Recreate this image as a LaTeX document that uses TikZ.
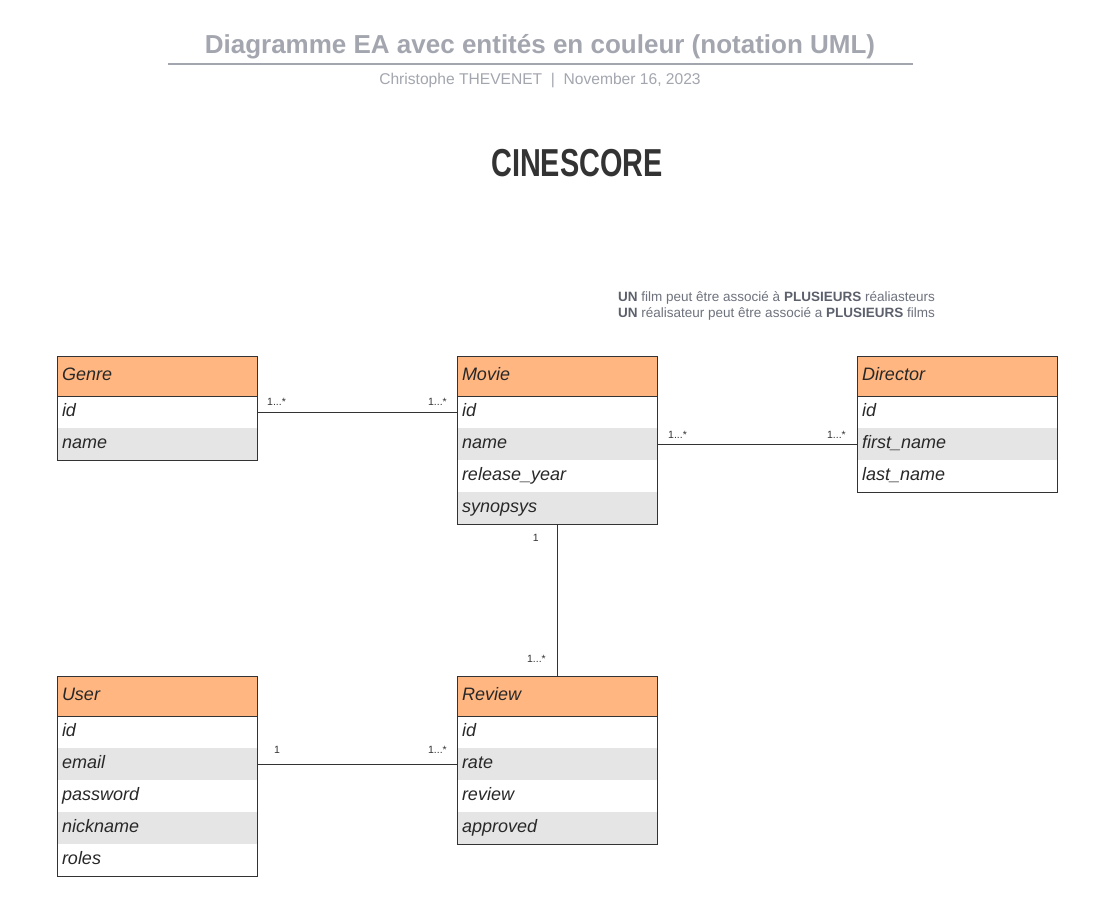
\documentclass[tikz,border=0pt]{standalone}
\usepackage{fontspec}
\setmainfont{Liberation Sans}
\usepackage{graphicx}
\definecolor{hdrorange}{HTML}{FFB680}
\definecolor{rowgray}{HTML}{E5E5E5}
\definecolor{bordc}{HTML}{333333}
\definecolor{txtc}{HTML}{282828}
\definecolor{titlegray}{HTML}{A3A6AE}
\definecolor{notegray}{HTML}{6E727D}
\definecolor{notebold}{HTML}{5C606B}
\newcommand\entfont{\fontsize{18pt}{20pt}\selectfont\itshape}
\tikzset{
  hdr/.style={rectangle, anchor=north west, fill=hdrorange, minimum width=200pt, minimum height=40pt,
    text width=190pt, inner xsep=5pt, inner ysep=0pt, outer sep=0pt, align=left, font=\entfont,
    text=txtc, text height=12.5pt, text depth=3.5pt},
  row/.style={rectangle, anchor=north west, minimum width=200pt, minimum height=32pt,
    text width=190pt, inner xsep=5pt, inner ysep=0pt, outer sep=0pt, align=left, font=\entfont,
    text=txtc, text height=12.5pt, text depth=3.5pt},
  bord/.style={draw=bordc, line width=1pt},
  conn/.style={draw=bordc, line width=1pt},
  lbl/.style={inner sep=0pt, font=\fontsize{10.5pt}{11pt}\selectfont, text=bordc},
}
\newcommand\entity[5]{%
  \node[hdr] (#1) at (#2) {#3};
  \foreach \r [count=\i] in {#5} {
    \ifodd\i \def\rf{white}\else\def\rf{rowgray}\fi
    \node[row, fill=\rf] (#1-\i) at ([yshift={-40-32*(\i-1)}]#1.north west) {\r};
  }
  \draw[bord] (#1.north west) rectangle (#1-#4.south east);
  \draw[bord] (#1.south west) -- (#1.south east);
}
\begin{document}
\begin{tikzpicture}[x=1pt,y=-1pt]
\useasboundingbox (0,0) rectangle (1093,916);
\fill[white] (0,0) rectangle (1093,916);

% Title block
\node[anchor=base, font=\fontsize{26pt}{30pt}\selectfont\bfseries, text=titlegray, inner sep=0pt] (title) at (540,53) {Diagramme EA avec entités en couleur (notation UML)};
\coordinate (tl) at (168,64);
\coordinate (tr) at (913,64);
\draw[titlegray, line width=2pt] (tl) -- (tr);
\node[anchor=base, font=\fontsize{15.6pt}{17pt}\selectfont, text=titlegray, inner sep=0pt] (subtitle) at (540,84) {Christophe THEVENET\ \ |\ \ November 16, 2023};

\node[text=bordc, inner sep=0pt] (brand) at (577,163) {\scalebox{0.74}[1]{\fontsize{39pt}{40pt}\selectfont\bfseries CINESCORE}};

% Note
\node[anchor=base west, inner sep=0pt, font=\fontsize{13.5pt}{16pt}\selectfont, text=notegray] (note1) at (618,301)
  {\textcolor{notebold}{\bfseries UN} film peut être associé à \textcolor{notebold}{\bfseries PLUSIEURS} réaliasteurs};
\node[anchor=base west, inner sep=0pt, font=\fontsize{13.5pt}{16pt}\selectfont, text=notegray] (note2) at (618,317)
  {\textcolor{notebold}{\bfseries UN} réalisateur peut être associé a \textcolor{notebold}{\bfseries PLUSIEURS} films};

% Entities
\entity{genre}{57,356}{Genre}{2}{id,name}
\entity{movie}{457,356}{Movie}{4}{id,name,release\_year,synopsys}
\entity{director}{857,356}{Director}{3}{id,first\_name,last\_name}
\entity{user}{57,676}{User}{5}{id,email,password,nickname,roles}
\entity{review}{457,676}{Review}{4}{id,rate,review,approved}

% Connectors
\draw[conn] (genre-1.east) -- (movie-1.west);
\draw[conn] (movie-2.east) -- (director-2.west);
\draw[conn] (movie-4.south) -- (review.north);
\draw[conn] (user-2.east) -- (review-2.west);

% Multiplicities
\node[lbl, anchor=south west] (gm1) at ([xshift=10pt,yshift=6pt]genre-1.east) {1...*};
\node[lbl, anchor=south east] (gm2) at ([xshift=-10pt,yshift=6pt]movie-1.west) {1...*};
\node[lbl, anchor=south west] (md1) at ([xshift=11pt,yshift=5pt]movie-2.east) {1...*};
\node[lbl, anchor=south east] (md2) at ([xshift=-11pt,yshift=5pt]director-2.west) {1...*};
\node[lbl, anchor=north east] (mr1) at ([xshift=-18pt,yshift=-10pt]movie-4.south) {1};
\node[lbl, anchor=south east] (mr2) at ([xshift=-11pt,yshift=13pt]review.north) {1...*};
\node[lbl, anchor=south west] (ur1) at ([xshift=17pt,yshift=10pt]user-2.east) {1};
\node[lbl, anchor=south east] (ur2) at ([xshift=-10pt,yshift=10pt]review-2.west) {1...*};
\end{tikzpicture}
\end{document}
